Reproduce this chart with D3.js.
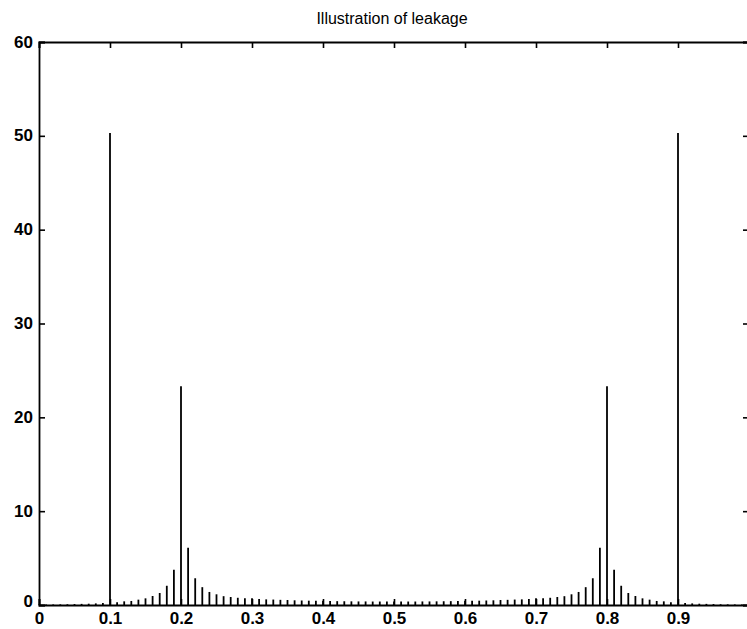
<!DOCTYPE html>
<html>
<head>
<meta charset="utf-8">
<script src="https://cdn.jsdelivr.net/npm/d3@7"></script>
<style>
  html, body { margin: 0; padding: 0; background: #fff; }
  svg { display: block; }
  text { font-family: "Liberation Sans", Arial, Helvetica, sans-serif; fill: #000; }
</style>
</head>
<body>
<div id="chart"></div>
<script>
// Normalized frequency bins (k/100) and DFT magnitudes
const freqs = d3.range(0, 100).map(k => +(k / 100).toFixed(2));
const lowerHalf = [
  0.05, 0.05, 0.06, 0.07, 0.08, 0.10, 0.12, 0.14, 0.17, 0.20,   // 0.00 - 0.09
  50.3, 0.28, 0.39, 0.43, 0.57, 0.71, 0.96, 1.28, 2.05, 3.75,   // 0.10 - 0.19
  23.3, 6.10, 2.85, 1.90, 1.39, 1.14, 0.94, 0.85, 0.77, 0.72,   // 0.20 - 0.29
  0.72, 0.64, 0.60, 0.58, 0.55, 0.53, 0.50, 0.48, 0.46, 0.45,   // 0.30 - 0.39
  0.44, 0.42, 0.41, 0.40, 0.39, 0.38, 0.38, 0.37, 0.37, 0.36,   // 0.40 - 0.49
  0.36                                                          // 0.50
];
// spectrum of a real signal is mirrored about 0.5
const magnitudes = freqs.map((f, k) => k <= 50 ? lowerHalf[k] : lowerHalf[100 - k]);

const xTicks = [0, 0.1, 0.2, 0.3, 0.4, 0.5, 0.6, 0.7, 0.8, 0.9];
const yTicks = [0, 10, 20, 30, 40, 50, 60];
const titleText = "Illustration of leakage";

const W = 747, H = 629;
const margin = { left: 39, top: 42, right: -2, bottom: 24 };
const svg = d3.select("#chart").append("svg").attr("width", W).attr("height", H);

const x = d3.scaleLinear().domain([0, 1]).range([margin.left, W - margin.right]);
const y = d3.scaleLinear().domain([0, 60]).range([H - margin.bottom, margin.top]);

// stems
svg.append("g").selectAll("line").data(freqs).join("line")
  .attr("x1", d => x(d)).attr("x2", d => x(d))
  .attr("y1", y(0)).attr("y2", (d, i) => y(magnitudes[i]))
  .attr("stroke", "#000").attr("stroke-width", 1.8);

// axes frame
const tickLen = -6;
const fmtX = d => d === 0 ? "0" : d3.format(".1f")(d);
const gBottom = svg.append("g").attr("transform", `translate(0,${y(0)})`)
  .call(d3.axisBottom(x).tickValues(xTicks).tickFormat(fmtX).tickSize(tickLen).tickPadding(7));
const gTop = svg.append("g").attr("transform", `translate(0,${y(60)})`)
  .call(d3.axisTop(x).tickValues(xTicks).tickFormat("").tickSize(tickLen));
const gLeft = svg.append("g").attr("transform", `translate(${x(0)},0)`)
  .call(d3.axisLeft(y).tickValues(yTicks).tickSize(tickLen).tickPadding(6));
const gRight = svg.append("g").attr("transform", `translate(${x(1)},0)`)
  .call(d3.axisRight(y).tickValues(yTicks).tickFormat("").tickSize(tickLen));

[gBottom, gTop, gLeft, gRight].forEach(g => {
  g.select(".domain").attr("stroke", "#000").attr("stroke-width", 1.8);
  g.selectAll(".tick line").attr("stroke", "#000").attr("stroke-width", 1.6);
  g.selectAll(".tick text").attr("font-family", '"Liberation Sans", Arial, sans-serif')
    .attr("font-size", 17).attr("font-weight", "bold").attr("fill", "#000");
});
gLeft.selectAll(".tick text").attr("dy", "0.3em");
gLeft.selectAll(".tick text").filter(d => d === 0).attr("dy", "0.1em");

// title
svg.append("text")
  .attr("x", (x(0) + x(1)) / 2 - 2).attr("y", 24)
  .attr("text-anchor", "middle")
  .attr("font-size", 16)
  .text(titleText);
</script>
</body>
</html>
